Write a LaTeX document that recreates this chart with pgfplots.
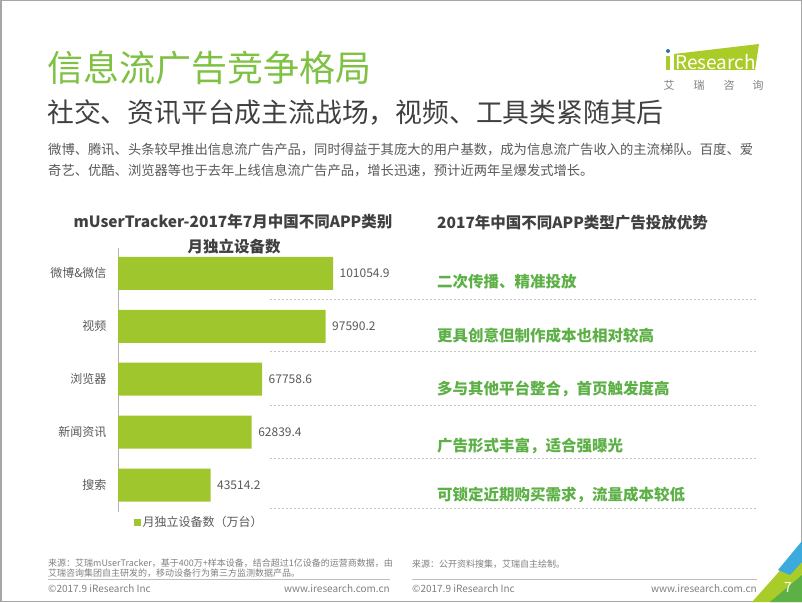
\documentclass[border=0pt]{standalone}
\usepackage{pgfplots}
\pgfplotsset{compat=1.18}
\usepackage{fontspec}
\setmainfont{Noto Sans CJK SC}

\definecolor{bargreen}{RGB}{160,198,45}
\definecolor{titlegreen}{RGB}{126,193,67}
\definecolor{textgreen}{RGB}{92,176,70}
\definecolor{logogreen}{RGB}{170,204,40}
\definecolor{darktext}{RGB}{64,64,64}
\definecolor{labelgray}{RGB}{89,89,89}
\definecolor{footgray}{RGB}{128,128,128}
\definecolor{logoblue}{RGB}{60,170,220}

\newcommand{\fs}[1]{\fontsize{#1}{#1}\selectfont}

\begin{document}
\begin{tikzpicture}
\begin{scope}[shift={(0pt,602pt)}, x=1pt, y=-1pt]
% page
\fill[white] (0,0) rectangle (802,602);
\draw[gray!70, line width=1.5pt] (0.75,0.75) rectangle (801.25,601.25);

% titles
\node[anchor=west, inner sep=0, text=titlegreen, font=\fs{36}] at (47,68) {信息流广告竞争格局};
\node[anchor=west, inner sep=0, text=darktext, font=\fs{26.8}] at (47,113) {社交、资讯平台成主流战场，视频、工具类紧随其后};
\node[anchor=west, inner sep=0, text=labelgray, font=\fs{13.3}] at (48,150) {微博、腾讯、头条较早推出信息流广告产品，同时得益于其庞大的用户基数，成为信息流广告收入的主流梯队。百度、爱};
\node[anchor=west, inner sep=0, text=labelgray, font=\fs{13.3}] at (48,171) {奇艺、优酷、浏览器等也于去年上线信息流广告产品，增长迅速，预计近两年呈爆发式增长。};

% logo
\fill[logogreen] (674,54) -- (759,44) -- (755,70) -- (674,70) -- cycle;
\node[anchor=west, inner sep=0, text=white, font=\fs{19}] at (675,62) {Research};
\fill[logogreen] (666,56) rectangle (670,70);
\fill[logoblue!70!black] (668,51) circle (2pt);
\foreach \x/\c in {669/艾,699/瑞,729/咨,758/询}
  \node[text=footgray, font=\fs{11}] at (\x,85) {\c};

% chart titles
\node[text=darktext, font=\bfseries\fs{15.5}] at (233,222) {mUserTracker-2017年7月中国不同APP类别};
\node[text=darktext, font=\bfseries\fs{15.5}] at (234,247) {月独立设备数};
\node[anchor=west, inner sep=0, text=darktext, font=\bfseries\fs{15.5}] at (437,223) {2017年中国不同APP类型广告投放优势};

% separators
\foreach \y in {299,351,405,458,508}
  \draw[gray!45, line width=0.9pt, dash pattern=on 2pt off 2pt] (270,\y) -- (757,\y);

% right-hand texts
\foreach \y/\t in {282/{二次传播、精准投放},336/{更具创意但制作成本也相对较高},389/{多与其他平台整合，首页触发度高},446/{广告形式丰富，适合强曝光},495/{可锁定近期购买需求，流量成本较低}}
  \node[anchor=west, inner sep=0, text=textgreen, font=\bfseries\fs{15.5}] at (437,\y) {\t};

% footer
\node[anchor=west, inner sep=0, text=footgray, font=\fs{9}] at (48,563) {来源：艾瑞mUserTracker，基于400万+样本设备，结合超过1亿设备的运营商数据，由};
\node[anchor=west, inner sep=0, text=footgray, font=\fs{9}] at (48,573) {艾瑞咨询集团自主研发的，移动设备行为第三方监测数据产品。};
\node[anchor=west, inner sep=0, text=footgray, font=\fs{9}] at (412,564) {来源：公开资料搜集，艾瑞自主绘制。};
\draw[gray!50, line width=0.8pt] (48,579) -- (390,579);
\draw[gray!50, line width=0.8pt] (412,579) -- (757,579);
\node[anchor=west, inner sep=0, text=footgray, font=\fs{10}] at (48,589) {©2017.9 iResearch Inc};
\node[anchor=east, inner sep=0, text=footgray, font=\fs{10}] at (390,589) {www.iresearch.com.cn};
\node[anchor=west, inner sep=0, text=footgray, font=\fs{10}] at (412,589) {©2017.9 iResearch Inc};
\node[anchor=east, inner sep=0, text=footgray, font=\fs{10}] at (757,589) {www.iresearch.com.cn};

% corner
\fill[logogreen] (752,602) -- (802,546) -- (802,602) -- cycle;
\fill[logoblue] (778,570) -- (802,541) -- (802,562) -- (790,575) -- cycle;
\fill[textgreen] (770,602) -- (802,575) -- (802,602) -- cycle;
\node[text=white, font=\fs{14}] at (788,588) {7};
\end{scope}

\begin{axis}[
  at={(118pt,90pt)}, anchor=south west,
  scale only axis,
  width=255.4pt, height=264pt,
  xbar, bar width=33pt,
  xmin=0, xmax=120000,
  ymin=-0.48, ymax=4.51,
  y dir=reverse,
  ytick={0,1,2,3,4},
  yticklabels={微博\&微信,视频,浏览器,新闻资讯,搜索},
  yticklabel style={font=\fs{12}, text=labelgray, xshift=-8pt},
  major tick length=0pt,
  axis x line=none,
  axis y line*=left,
  y axis line style={-, draw=gray!60, line width=0.8pt},
  point meta=explicit symbolic,
  nodes near coords,
  nodes near coords style={anchor=west, font=\fs{12}, text=labelgray, xshift=3pt},
  clip=false,
  legend style={draw=none, fill=none, at={(0.06,-0.04)}, anchor=west,
    font=\fs{12}, text=labelgray, inner sep=0pt},
  legend image code/.code={\fill[bargreen] (0pt,-3.5pt) rectangle (7pt,3.5pt);},
]
\addplot[fill=bargreen, draw=none] coordinates {
  (101054.9,0) [101054.9]
  (97590.2,1) [97590.2]
  (67758.6,2) [67758.6]
  (62839.4,3) [62839.4]
  (43514.2,4) [43514.2]
};
\addlegendentry{月独立设备数（万台）}
\end{axis}
\end{tikzpicture}
\end{document}
